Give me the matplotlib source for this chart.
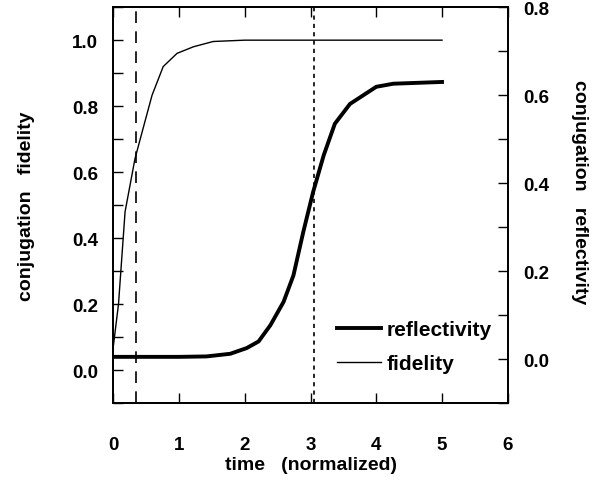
import numpy as np
import matplotlib.pyplot as plt
from matplotlib.ticker import MultipleLocator

plt.rcParams['font.family'] = ['Liberation Sans', 'DejaVu Sans']
plt.rcParams['font.weight'] = 'bold'

# fidelity (left axis)
t_fid = [0.0, 0.08, 0.18, 0.33, 0.41, 0.59, 0.76, 0.97, 1.22, 1.52, 2.0, 3.0, 4.0, 5.0]
fidelity = [0.07, 0.20, 0.48, 0.64, 0.70, 0.833, 0.92, 0.96, 0.98, 0.996, 1.0, 1.0, 1.0, 1.0]

# reflectivity (right axis)
t_ref = [0.0, 0.5, 1.0, 1.42, 1.78, 2.03, 2.21, 2.39, 2.59, 2.74, 2.89, 3.04, 3.20,
         3.37, 3.60, 4.0, 4.26, 5.0]
reflectivity = [0.005, 0.005, 0.005, 0.006, 0.012, 0.025, 0.040, 0.077, 0.13, 0.19,
                 0.289, 0.38, 0.463, 0.535, 0.58, 0.619, 0.626, 0.63]

t_dash1 = 0.35
t_dash2 = 3.06

fig = plt.figure(figsize=(5.96, 4.81), dpi=100)
ax = fig.add_axes([0.190, 0.160, 0.662, 0.823])
ax2 = ax.twinx()

l_fid, = ax.plot(t_fid, fidelity, color='black', lw=1.0)
l_ref, = ax2.plot(t_ref, reflectivity, color='black', lw=2.8)
ax.axvline(t_dash1, color='black', lw=1.2, dashes=(7, 5))
ax.axvline(t_dash2, color='black', lw=1.2, dashes=(2.5, 2.5))

ax.set_xlim(0, 6)
ax.set_ylim(-0.1, 1.1)
ax2.set_ylim(-0.1, 0.8)

ax.xaxis.set_major_locator(MultipleLocator(1))
ax.yaxis.set_major_locator(MultipleLocator(0.2))
ax.yaxis.set_minor_locator(MultipleLocator(0.1))
ax2.yaxis.set_major_locator(MultipleLocator(0.2))
ax2.yaxis.set_minor_locator(MultipleLocator(0.1))
ax.yaxis.set_major_formatter(lambda v, p: f'{v:.1f}')
ax2.yaxis.set_major_formatter(lambda v, p: f'{v:.1f}')

ax.tick_params(axis='x', which='both', direction='in', top=True, length=7, width=1,
               pad=24, labelsize=13.5)
ax.tick_params(axis='y', which='both', direction='in', right=False, length=7, width=1,
               pad=11, labelsize=13.5)
ax2.tick_params(axis='y', which='both', direction='in', length=7, width=1,
                pad=11, labelsize=13.5)

for a in (ax, ax2):
    for s in a.spines.values():
        s.set_linewidth(1.3)

fig.text(0.045, 0.572, 'conjugation   fidelity', rotation=90, ha='center', va='center',
         fontsize=14)
fig.text(0.973, 0.600, 'conjugation   reflectivity', rotation=-90, ha='center',
         va='center', fontsize=14)
fig.text(0.521, 0.032, 'time   (normalized)', ha='center', va='center', fontsize=14)

ax.legend([l_ref, l_fid], ['reflectivity', 'fidelity'], loc='lower left',
          bbox_to_anchor=(0.567, 0.075), frameon=False, fontsize=15, handlelength=2.1,
          handletextpad=0.3, labelspacing=0.72, borderaxespad=0.0, borderpad=0.0)

fig.savefig('out.png', dpi=100)
